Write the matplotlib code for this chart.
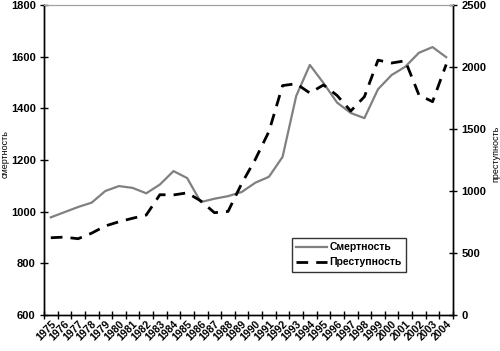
import numpy as np
import matplotlib.pyplot as plt

years = list(range(1975, 2005))
mortality = [978, 998, 1018, 1035, 1080, 1099, 1092, 1071, 1105, 1157,
             1130, 1037, 1050, 1060, 1076, 1112, 1135, 1212, 1448, 1568,
             1498, 1422, 1382, 1362, 1474, 1529, 1561, 1615, 1637, 1598]
crime = [623, 628, 615, 660, 718, 752, 780, 806, 970, 968,
         985, 920, 825, 835, 1060, 1255, 1480, 1850, 1865, 1790,
         1855, 1770, 1645, 1760, 2055, 2032, 2050, 1775, 1720, 2020]

plt.rcParams['font.family'] = ['Liberation Sans', 'DejaVu Sans']
plt.rcParams['font.weight'] = 'bold'

fig = plt.figure(figsize=(5.0, 3.51), dpi=100)
ax = fig.add_axes([0.088, 0.1026, 0.818, 0.8832])
ax2 = ax.twinx()

x = np.arange(len(years))
l1, = ax.plot(x, mortality, color='#808080', lw=1.6, label='Смертность')
l2, = ax2.plot(x, crime, color='black', lw=2, dashes=(4.2, 2.9), label='Преступность')

ax.set_xlim(-0.5, len(years) - 0.5)
ax.set_ylim(600, 1800)
ax.set_yticks(range(600, 1801, 200))
ax2.set_ylim(0, 2500)
ax2.set_yticks(range(0, 2501, 500))

# деления между категориями, подписи по центру
ax.set_xticks(np.arange(len(years) + 1) - 0.5)
ax.set_xticklabels([])
ax.set_xticks(x, minor=True)
ax.set_xticklabels([str(y) for y in years], minor=True, rotation=45,
                   ha='right', va='top', rotation_mode='anchor', fontsize=7.6)
ax.tick_params(axis='x', which='minor', length=0, pad=3)
ax.tick_params(axis='x', which='major', direction='inout', length=6, width=1)
ax.tick_params(axis='y', direction='inout', length=6, width=1, labelsize=8, pad=3)
ax2.tick_params(axis='y', direction='inout', length=6, width=1, labelsize=8, pad=3)

for a in (ax, ax2):
    a.spines['top'].set_color('#a0a0a0')
    a.spines['top'].set_linewidth(0.8)
    a.spines['left'].set_linewidth(1)
    a.spines['right'].set_linewidth(1)
    a.spines['bottom'].set_linewidth(1)

ax.set_ylabel('смертность', fontsize=6.5)
ax.yaxis.set_label_coords(-0.085, 0.52)
ax2.set_ylabel('преступность', fontsize=6.5)
ax2.yaxis.set_label_coords(1.093, 0.52)

leg = ax2.legend(handles=[l1, l2], loc='upper left',
                 bbox_to_anchor=(292 / 500, 1 - 238 / 351), bbox_transform=fig.transFigure,
                 fontsize=7.5, frameon=True, fancybox=False, handlelength=3,
                 handletextpad=0.2, borderpad=0.4, labelspacing=0.5, borderaxespad=0)
leg.get_frame().set_edgecolor('black')
leg.get_frame().set_linewidth(1)

fig.savefig('out.png', dpi=100)
